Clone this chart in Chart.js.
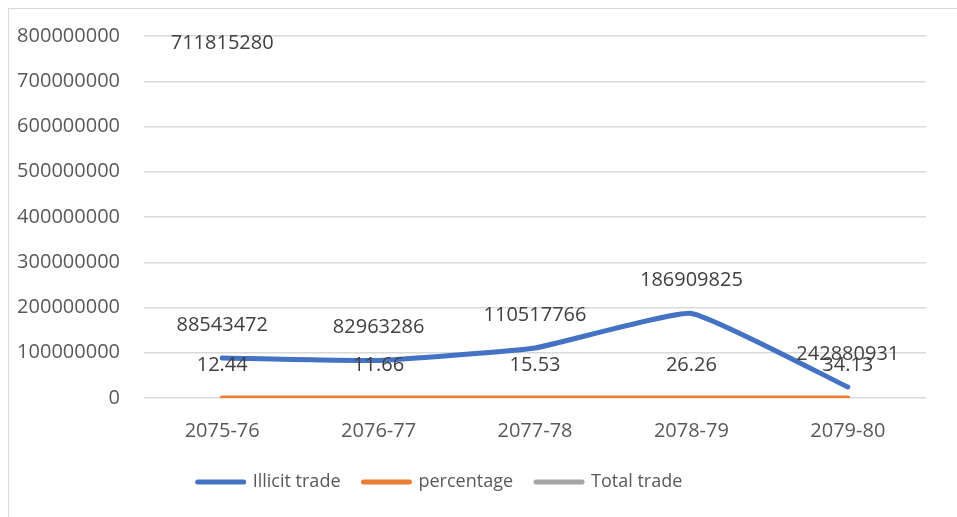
<!DOCTYPE html>
<html>
<head>
<meta charset="utf-8">
<script src="https://cdn.jsdelivr.net/npm/chart.js@4"></script>
<style>
  html, body { margin: 0; padding: 0; background: #fff; }
  #frame { position: absolute; left: 8px; top: 8px; width: 1000px; height: 1000px; border: 1px solid #d9d9d9; box-sizing: border-box; }
  #wrap { position: absolute; left: 0; top: 0; width: 957px; height: 517px; }
</style>
</head>
<body>
<div id="frame"></div>
<div id="wrap"><canvas id="myChart"></canvas></div>
<script>
// dados
const anos = ['2075-76', '2076-77', '2077-78', '2078-79', '2079-80'];
const illicitTrade = [88543472, 82963286, 110517766, 186909825, 24288093];
const illicitLabels = ['88543472', '82963286', '110517766', '186909825', '242880931'];
const percentage = [12.44, 11.66, 15.53, 26.26, 34.13];
const percentageLabels = ['12.44', '11.66', '15.53', '26.26', '34.13'];
const totalTrade = [711815280, null, null, null, null];
const totalLabels = ['711815280', '', '', '', ''];

const fonte = "'Open Sans', sans-serif";

// rotulos de dados acima dos pontos
const rotulos = {
    id: 'rotulos',
    afterLayout(chart) {
        // legenda um pouco para a esquerda, como no original
        if (chart.legend) {
            chart.legend.left -= 23;
            chart.legend.right -= 23;
        }
    },
    afterDatasetsDraw(chart) {
        const ctx = chart.ctx;
        ctx.save();
        ctx.font = '20px ' + fonte;
        ctx.fillStyle = '#404040';
        ctx.textAlign = 'center';
        ctx.textBaseline = 'middle';
        chart.data.datasets.forEach((ds, i) => {
            const meta = chart.getDatasetMeta(i);
            meta.data.forEach((pt, j) => {
                const txt = ds.rotulos[j];
                if (!txt || ds.data[j] === null) return;
                ctx.fillText(txt, pt.x, pt.y - 33);
            });
        });
        ctx.restore();
    }
};

const data = {
    labels: anos,
    datasets: [{
        label: 'Illicit trade',
        data: illicitTrade,
        rotulos: illicitLabels,
        borderColor: '#4472C4',
        backgroundColor: '#4472C4',
        borderWidth: 5,
        borderCapStyle: 'round',
        tension: 0.12,
        pointRadius: 0
    }, {
        label: 'percentage',
        data: percentage,
        rotulos: percentageLabels,
        borderColor: '#ED7D31',
        backgroundColor: '#ED7D31',
        borderWidth: 5,
        borderCapStyle: 'round',
        pointRadius: 0
    }, {
        label: 'Total trade',
        data: totalTrade,
        rotulos: totalLabels,
        borderColor: '#A5A5A5',
        backgroundColor: '#A5A5A5',
        borderWidth: 5,
        borderCapStyle: 'butt',
        pointRadius: 0
    }]
};

const options = {
    responsive: true,
    maintainAspectRatio: false,
    animation: false,
    layout: { padding: { left: 0, right: 31, top: 35, bottom: 16 } },
    scales: {
        x: {
            offset: true,
            grid: { display: false, offset: true },
            border: { display: false },
            ticks: { color: '#595959', font: { family: fonte, size: 20 }, padding: 13 },
            afterFit: (s) => { s.height = 52; }
        },
        y: {
            min: 0,
            max: 800000000,
            grid: { color: '#d9d9d9', lineWidth: 1.5, drawTicks: false },
            border: { display: false },
            ticks: {
                stepSize: 100000000,
                color: '#595959',
                font: { family: fonte, size: 20 },
                padding: 24,
                callback: (v) => String(v)
            },
            afterFit: (s) => { s.width = 144; }
        }
    },
    plugins: {
        tooltip: { enabled: false },
        legend: {
            display: true,
            position: 'bottom',
            labels: {
                usePointStyle: true,
                pointStyle: 'line',
                pointStyleWidth: 46,
                boxHeight: 20,
                padding: 23,
                color: '#595959',
                font: { family: fonte, size: 18 },
                generateLabels: (chart) => {
                    const itens = Chart.defaults.plugins.legend.labels.generateLabels(chart);
                    itens.forEach(it => { it.lineCap = 'round'; });
                    return itens;
                }
            }
        }
    }
};

const config = {
    type: 'line',
    data: data,
    options: options,
    plugins: [rotulos]
};

const myChart = new Chart(document.getElementById('myChart'), config);
</script>
</body>
</html>
